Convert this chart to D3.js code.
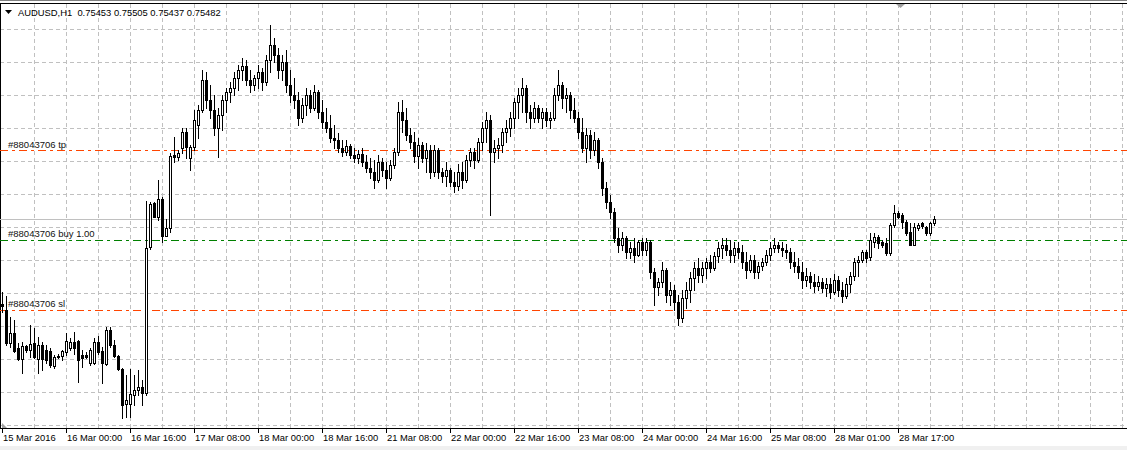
<!DOCTYPE html>
<html><head><meta charset="utf-8">
<script src="https://cdn.jsdelivr.net/npm/d3@7"></script>
<style>html,body{margin:0;padding:0;background:#fff;overflow:hidden}</style>
</head><body>
<script>
const symbol = "AUDUSD", timeframe = "H1";
const opens = [0.74845,0.74800,0.74552,0.74627,0.74515,0.74432,0.74530,0.74500,0.74552,0.74432,
0.74537,0.74500,0.74492,0.74380,0.74455,0.74455,0.74485,0.74515,0.74560,0.74567,
0.74462,0.74462,0.74402,0.74402,0.74560,0.74492,0.74395,0.74650,0.74537,0.74455,
0.74357,0.74095,0.74095,0.74162,0.74200,0.74222,0.74177,0.75272,0.75602,0.75497,
0.75632,0.75355,0.75415,0.75962,0.75947,0.76015,0.76135,0.75940,0.76022,0.76187,
0.76300,0.76525,0.76375,0.76300,0.76165,0.76262,0.76375,0.76435,0.76465,0.76540,
0.76600,0.76630,0.76525,0.76487,0.76540,0.76585,0.76510,0.76675,0.76787,0.76712,
0.76600,0.76660,0.76487,0.76412,0.76375,0.76240,0.76337,0.76412,0.76315,0.76435,
0.76285,0.76210,0.76165,0.76090,0.76075,0.76015,0.75985,0.76030,0.75962,0.75940,
0.75970,0.75910,0.75865,0.75835,0.75775,0.75910,0.75850,0.75790,0.75887,0.75985,
0.76285,0.76225,0.76112,0.76060,0.75955,0.76037,0.75940,0.76000,0.75835,0.76000,
0.75835,0.75805,0.75850,0.75760,0.75730,0.75835,0.75775,0.75925,0.75985,0.75925,
0.76060,0.76165,0.76225,0.75985,0.76015,0.76037,0.76135,0.76165,0.76240,0.76360,
0.76412,0.76465,0.76285,0.76240,0.76315,0.76240,0.76285,0.76225,0.76240,0.76412,
0.76487,0.76390,0.76412,0.76300,0.76240,0.76135,0.76015,0.76112,0.76000,0.76075,
0.75910,0.75715,0.75610,0.75535,0.75340,0.75287,0.75340,0.75235,0.75265,0.75212,
0.75310,0.75250,0.75310,0.75085,0.74975,0.75010,0.75100,0.74912,0.74950,0.74860,
0.74740,0.74890,0.74950,0.75040,0.75115,0.75062,0.75115,0.75160,0.75115,0.75205,
0.75265,0.75287,0.75250,0.75212,0.75265,0.75235,0.75160,0.75100,0.75175,0.75085,
0.75130,0.75160,0.75212,0.75265,0.75287,0.75265,0.75250,0.75235,0.75160,0.75130,
0.75085,0.75025,0.75055,0.75010,0.74980,0.75010,0.74965,0.74995,0.74935,0.75025,
0.74950,0.74905,0.74995,0.75055,0.75160,0.75175,0.75235,0.75197,0.75310,0.75347,
0.75310,0.75302,0.75227,0.75437,0.75527,0.75512,0.75460,0.75385,0.75287,0.75415,
0.75452,0.75422,0.75377,0.75453];
const highs = [0.74935,0.74905,0.74747,0.74725,0.74552,0.74560,0.74537,0.74687,0.74665,0.74597,
0.74560,0.74537,0.74515,0.74462,0.74470,0.74500,0.74627,0.74590,0.74635,0.74575,
0.74500,0.74485,0.74515,0.74590,0.74605,0.74522,0.74672,0.74672,0.74575,0.74462,
0.74365,0.74312,0.74357,0.74312,0.74350,0.74275,0.75617,0.75610,0.75610,0.75775,
0.75647,0.75482,0.75977,0.76097,0.76000,0.76165,0.76165,0.76037,0.76300,0.76337,
0.76600,0.76585,0.76487,0.76412,0.76315,0.76412,0.76465,0.76510,0.76585,0.76637,
0.76690,0.76675,0.76600,0.76562,0.76637,0.76615,0.76712,0.76937,0.76840,0.76765,
0.76712,0.76750,0.76600,0.76540,0.76435,0.76390,0.76465,0.76450,0.76487,0.76450,
0.76375,0.76315,0.76262,0.76187,0.76127,0.76075,0.76075,0.76045,0.76015,0.76000,
0.76015,0.75962,0.75940,0.75925,0.75962,0.75940,0.75910,0.75925,0.76015,0.76360,
0.76375,0.76315,0.76165,0.76135,0.76090,0.76060,0.76052,0.76037,0.76037,0.76015,
0.75865,0.75910,0.75865,0.75835,0.75895,0.75910,0.75962,0.76015,0.76015,0.76090,
0.76210,0.76285,0.76262,0.76075,0.76090,0.76165,0.76225,0.76285,0.76390,0.76465,
0.76540,0.76487,0.76337,0.76360,0.76337,0.76315,0.76315,0.76285,0.76465,0.76600,
0.76510,0.76465,0.76435,0.76390,0.76285,0.76240,0.76165,0.76150,0.76135,0.76090,
0.75940,0.75760,0.75662,0.75565,0.75415,0.75385,0.75355,0.75310,0.75340,0.75325,
0.75340,0.75340,0.75325,0.75115,0.75040,0.75160,0.75115,0.75010,0.74987,0.74912,
0.74950,0.75010,0.75085,0.75160,0.75190,0.75160,0.75190,0.75212,0.75235,0.75310,
0.75340,0.75340,0.75325,0.75310,0.75310,0.75287,0.75235,0.75212,0.75212,0.75160,
0.75190,0.75250,0.75310,0.75340,0.75310,0.75310,0.75295,0.75265,0.75235,0.75190,
0.75160,0.75115,0.75085,0.75070,0.75055,0.75040,0.75040,0.75040,0.75070,0.75055,
0.75010,0.75040,0.75085,0.75190,0.75205,0.75250,0.75250,0.75377,0.75377,0.75362,
0.75325,0.75340,0.75452,0.75587,0.75542,0.75527,0.75475,0.75452,0.75452,0.75452,
0.75460,0.75430,0.75460,0.75505];
const lows = [0.74785,0.74537,0.74522,0.74485,0.74425,0.74327,0.74485,0.74447,0.74440,0.74327,
0.74350,0.74402,0.74372,0.74365,0.74440,0.74425,0.74462,0.74500,0.74470,0.74260,
0.74372,0.74440,0.74387,0.74395,0.74470,0.74252,0.74387,0.74522,0.74447,0.74350,
0.73990,0.73997,0.73997,0.74087,0.74162,0.74087,0.74162,0.75257,0.75497,0.75475,
0.75310,0.75355,0.75385,0.75910,0.75925,0.75977,0.75940,0.75850,0.76000,0.76090,
0.76285,0.76315,0.76240,0.76112,0.75947,0.76150,0.76285,0.76360,0.76412,0.76450,
0.76525,0.76487,0.76435,0.76450,0.76465,0.76450,0.76487,0.76585,0.76660,0.76540,
0.76525,0.76435,0.76360,0.76315,0.76187,0.76210,0.76262,0.76285,0.76300,0.76240,
0.76165,0.76135,0.76060,0.76015,0.75985,0.75955,0.75962,0.75940,0.75910,0.75902,
0.75880,0.75835,0.75790,0.75715,0.75760,0.75805,0.75715,0.75775,0.75865,0.75962,
0.76135,0.76075,0.76015,0.75910,0.75865,0.75910,0.75835,0.75790,0.75805,0.75790,
0.75760,0.75730,0.75730,0.75685,0.75700,0.75715,0.75760,0.75880,0.75865,0.75910,
0.76000,0.76060,0.75512,0.75910,0.75940,0.75985,0.76060,0.76105,0.76165,0.76240,
0.76285,0.76210,0.76165,0.76210,0.76210,0.76165,0.76180,0.76165,0.76225,0.76375,
0.76315,0.76285,0.76240,0.76210,0.76090,0.75985,0.75910,0.75940,0.75962,0.75865,
0.75662,0.75565,0.75490,0.75310,0.75235,0.75250,0.75190,0.75190,0.75160,0.75205,
0.75212,0.75212,0.75040,0.74837,0.74912,0.74975,0.74860,0.74837,0.74800,0.74687,
0.74710,0.74815,0.74860,0.74950,0.75010,0.75010,0.75040,0.75085,0.75100,0.75160,
0.75190,0.75212,0.75160,0.75160,0.75190,0.75115,0.75040,0.75085,0.75040,0.75040,
0.75100,0.75137,0.75175,0.75235,0.75235,0.75205,0.75190,0.75115,0.75085,0.75040,
0.74965,0.74980,0.74965,0.74935,0.74950,0.74935,0.74905,0.74890,0.74920,0.74905,
0.74860,0.74890,0.74935,0.75025,0.75055,0.75160,0.75160,0.75175,0.75272,0.75265,
0.75272,0.75212,0.75212,0.75422,0.75490,0.75415,0.75362,0.75287,0.75287,0.75400,
0.75415,0.75362,0.75362,0.75437];
const closes = [0.74830,0.74552,0.74627,0.74492,0.74432,0.74530,0.74500,0.74545,0.74447,0.74537,
0.74432,0.74425,0.74387,0.74447,0.74447,0.74492,0.74567,0.74560,0.74515,0.74425,
0.74440,0.74447,0.74500,0.74560,0.74485,0.74402,0.74650,0.74537,0.74455,0.74357,
0.74087,0.74125,0.74170,0.74200,0.74222,0.74177,0.75265,0.75595,0.75497,0.75632,
0.75355,0.75415,0.75955,0.75947,0.75977,0.76135,0.76022,0.76022,0.76225,0.76300,
0.76525,0.76375,0.76300,0.76165,0.76262,0.76375,0.76435,0.76465,0.76540,0.76600,
0.76630,0.76525,0.76487,0.76540,0.76585,0.76510,0.76675,0.76787,0.76712,0.76600,
0.76660,0.76487,0.76412,0.76375,0.76240,0.76337,0.76412,0.76315,0.76435,0.76285,
0.76210,0.76165,0.76090,0.76075,0.76015,0.75985,0.76030,0.75962,0.75940,0.75970,
0.75910,0.75865,0.75835,0.75775,0.75910,0.75850,0.75790,0.75887,0.75985,0.76285,
0.76225,0.76112,0.76060,0.75955,0.76037,0.75940,0.76000,0.75835,0.76000,0.75835,
0.75805,0.75850,0.75760,0.75730,0.75835,0.75775,0.75925,0.75985,0.75925,0.76060,
0.76165,0.76225,0.75985,0.76015,0.76037,0.76135,0.76165,0.76240,0.76360,0.76412,
0.76465,0.76285,0.76240,0.76315,0.76240,0.76285,0.76225,0.76240,0.76412,0.76487,
0.76390,0.76412,0.76300,0.76240,0.76135,0.76015,0.76112,0.76000,0.76075,0.75910,
0.75715,0.75610,0.75535,0.75340,0.75287,0.75340,0.75235,0.75265,0.75212,0.75310,
0.75250,0.75310,0.75085,0.74975,0.75010,0.75100,0.74912,0.74950,0.74860,0.74740,
0.74890,0.74950,0.75040,0.75115,0.75062,0.75115,0.75160,0.75115,0.75205,0.75265,
0.75287,0.75250,0.75212,0.75265,0.75235,0.75160,0.75100,0.75175,0.75085,0.75130,
0.75160,0.75212,0.75265,0.75287,0.75265,0.75250,0.75235,0.75160,0.75130,0.75085,
0.75025,0.75055,0.75010,0.74980,0.75010,0.74965,0.74995,0.74935,0.75025,0.74950,
0.74905,0.74995,0.75055,0.75160,0.75175,0.75235,0.75190,0.75325,0.75347,0.75302,
0.75287,0.75227,0.75437,0.75527,0.75497,0.75460,0.75377,0.75287,0.75422,0.75437,
0.75430,0.75377,0.75452,0.75482];
const tickBars = [0,16,32,48,64,80,96,112,128,144,160,176,192,208,224];
const tickLabels = ["15 Mar 2016","16 Mar 00:00","16 Mar 16:00","17 Mar 08:00","18 Mar 00:00",
  "18 Mar 16:00","21 Mar 08:00","22 Mar 00:00","22 Mar 16:00","23 Mar 08:00","24 Mar 00:00",
  "24 Mar 16:00","25 Mar 08:00","28 Mar 01:00","28 Mar 17:00"];
const ticket = "#88043706";
const tpPrice = 0.76000, openPrice = 0.75325, slPrice = 0.74800, lots = "1.00";

const W = 1127, H = 450;
const FONT = "'Liberation Sans', Arial, sans-serif";
const svg = d3.select("body").append("svg").attr("width", W).attr("height", H)
  .style("display", "block").attr("shape-rendering", "crispEdges");
svg.append("rect").attr("width", W).attr("height", H).attr("fill", "#fff");
svg.append("rect").attr("y", 446).attr("width", W).attr("height", 4).attr("fill", "#f0f0f0");

const x = d3.scaleLinear().domain([0, 1]).range([2, 6]);
const y = d3.scaleLinear().domain([0.7600, 0.7480]).range([150, 310]);
const Y = p => Math.round(y(p));

// grid
const grid = svg.append("g").attr("stroke", "#c0c0c0").attr("stroke-dasharray", "4,3");
for (let gx = 34; gx < W; gx += 32)
  grid.append("line").attr("x1", gx + 0.5).attr("x2", gx + 0.5).attr("y1", 4).attr("y2", 428);
for (let gy = 29; gy <= 425; gy += 33)
  grid.append("line").attr("x1", 0).attr("x2", W).attr("y1", gy + 0.5).attr("y2", gy + 0.5);

// frame
svg.append("line").attr("x1", 0).attr("x2", W).attr("y1", 0.5).attr("y2", 0.5).attr("stroke", "#808080");
svg.append("line").attr("x1", 0).attr("x2", W).attr("y1", 3.5).attr("y2", 3.5).attr("stroke", "#000");
svg.append("line").attr("x1", 0.5).attr("x2", 0.5).attr("y1", 3).attr("y2", 429).attr("stroke", "#000");
svg.append("line").attr("x1", 0).attr("x2", W).attr("y1", 428.5).attr("y2", 428.5).attr("stroke", "#000");

// bid line
svg.append("line").attr("x1", 0).attr("x2", W)
  .attr("y1", Y(closes[closes.length - 1]) + 0.5).attr("y2", Y(closes[closes.length - 1]) + 0.5)
  .attr("stroke", "#c0c0c0");

// order lines
const orders = [
  {p: tpPrice, label: ticket + " tp", color: "#ff4500", off: 2},
  {p: openPrice, label: ticket + " buy " + lots, color: "#008000", off: 3},
  {p: slPrice, label: ticket + " sl", color: "#ff4500", off: 3}
];
orders.forEach(o => {
  svg.append("line").attr("x1", 0).attr("x2", W).attr("y1", Y(o.p) + 0.5).attr("y2", Y(o.p) + 0.5)
    .attr("stroke", o.color).attr("stroke-dasharray", "8,4,3,4");
});

// candles
const idx = d3.range(opens.length);
const cg = svg.append("g");
cg.selectAll("line.w").data(idx).join("line").attr("class", "w")
  .attr("x1", i => x(i) + 0.5).attr("x2", i => x(i) + 0.5)
  .attr("y1", i => Y(highs[i])).attr("y2", i => Y(lows[i]) + 1)
  .attr("stroke", "#000");
cg.selectAll("rect.b").data(idx).join("rect").attr("class", "b")
  .each(function (i) {
    const o = Y(opens[i]), c = Y(closes[i]);
    const top = Math.min(o, c), bot = Math.max(o, c);
    const s = d3.select(this);
    if (closes[i] > opens[i]) {
      s.attr("x", x(i) - 0.5).attr("y", top + 0.5).attr("width", 2).attr("height", Math.max(bot - top, 0))
        .attr("fill", "#fff").attr("stroke", "#000");
    } else {
      s.attr("x", x(i) - 1).attr("y", top).attr("width", 3).attr("height", bot - top + 1)
        .attr("fill", "#000");
    }
  });

// order labels
orders.forEach(o => {
  svg.append("text").attr("x", 8).attr("y", Y(o.p) - o.off).text(o.label)
    .attr("font-family", FONT).attr("font-size", "9.5px").attr("fill", "#111");
});

// time axis
const ax = svg.append("g");
tickBars.forEach((b, k) => {
  ax.append("line").attr("x1", x(b) + 0.5).attr("x2", x(b) + 0.5).attr("y1", 429).attr("y2", 433).attr("stroke", "#000");
  ax.append("text").attr("x", x(b) + 1).attr("y", 441).text(tickLabels[k])
    .attr("font-family", FONT).attr("font-size", "9.4px").attr("fill", "#000");
});

// title
svg.append("path").attr("d", "M5,10 L12,10 L8.5,14 Z").attr("fill", "#000").attr("shape-rendering", "auto");
const last = opens.length - 1;
svg.append("text").attr("x", 18).attr("y", 16)
  .text(symbol + "," + timeframe + "  " + [opens[last], highs[last], lows[last], closes[last]].map(v => v.toFixed(5)).join(" "))
  .attr("font-family", FONT).attr("font-size", "9.4px").attr("fill", "#000").attr("xml:space", "preserve")
  .style("white-space", "pre");

// shift markers
svg.append("path").attr("d", "M896,4 L905,4 L900.5,8 Z").attr("fill", "#a0a0a0").attr("shape-rendering", "auto");
svg.append("path").attr("d", "M2,423 L2,428 L7,428 Z").attr("fill", "#a0a0a0").attr("shape-rendering", "auto");
</script>
</body></html>
